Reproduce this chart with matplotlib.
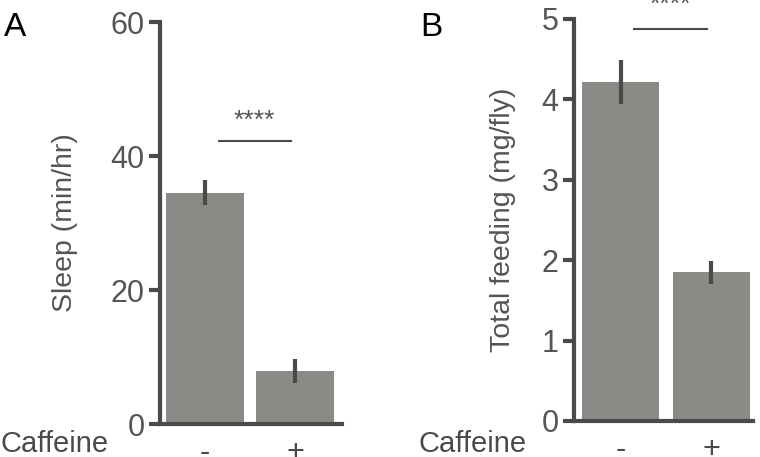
import matplotlib
matplotlib.use('Agg')
import matplotlib.pyplot as plt

plt.rcParams['font.family'] = ['Liberation Sans', 'DejaVu Sans']

groups = ['-', '+']

sleep_mean = [34.5, 7.9]
sleep_low = [32.7, 6.1]
sleep_high = [36.4, 9.7]

feed_mean = [4.22, 1.85]
feed_low = [3.94, 1.70]
feed_high = [4.49, 1.99]

bar_color = '#8a8b86'
dark = '#4a4a4a'
text_grey = '#555555'

fig = plt.figure(figsize=(7.6, 4.57), dpi=100)
axA = fig.add_axes([160 / 760, 1 - 424 / 457, 182 / 760, 402 / 457])
axB = fig.add_axes([574 / 760, 1 - 421 / 457, 179 / 760, 402 / 457])


def panel(ax, means, low, high, ylim, yticks, ylabel, xlim, width, sig_y, star_y, label_x):
    x = list(range(len(means)))
    ax.bar(x, means, width=width, color=bar_color, edgecolor='none')
    ax.vlines(x, low, high, color=dark, linewidth=3)
    ax.set_xlim(*xlim)
    ax.set_ylim(*ylim)
    ax.set_yticks(yticks)
    ax.set_xticks(x)
    ax.set_xticklabels(groups)
    for side in ['top', 'right']:
        ax.spines[side].set_visible(False)
    for side in ['left', 'bottom']:
        ax.spines[side].set_linewidth(3)
        ax.spines[side].set_color(dark)
    ax.tick_params(axis='y', length=8, width=3, color=dark, labelsize=22,
                   labelcolor=text_grey, pad=3)
    ax.tick_params(axis='x', length=0, labelsize=22, labelcolor=dark, pad=10)
    ax.set_ylabel(ylabel, fontsize=20.5, color=text_grey)
    ax.yaxis.set_label_coords(label_x, 0.5)
    ax.plot([0.15, 0.95], [sig_y, sig_y], color=dark, linewidth=1.5, clip_on=False)
    ax.text(0.55, star_y, '****', ha='center', va='center', fontsize=19,
            color=text_grey, clip_on=False)


panel(axA, sleep_mean, sleep_low, sleep_high, (0, 60), [0, 20, 40, 60],
      'Sleep (min/hr)', (-0.5, 1.52), 0.867, 42.2, 45.3, -0.45)
panel(axB, feed_mean, feed_low, feed_high, (0, 5), [0, 1, 2, 3, 4, 5],
      'Total feeding (mg/fly)', (-0.514, 1.46), 0.85, 4.88, 5.17, -0.325)

fig.text(0.0, 1 - 452 / 457, 'Caffeine', fontsize=21, color=dark, va='baseline')
fig.text(418 / 760, 1 - 452 / 457, 'Caffeine', fontsize=21, color=dark, va='baseline')
fig.text(4 / 760, 1 - 12 / 457, 'A', fontsize=24, color='black', va='top')
fig.text(420 / 760, 1 - 12 / 457, 'B', fontsize=24, color='black', va='top')

fig.savefig('out.png', dpi=100)
